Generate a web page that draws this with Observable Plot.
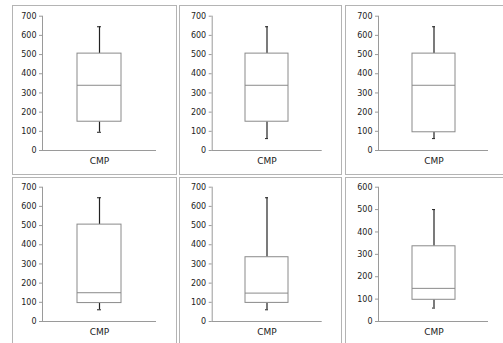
<!DOCTYPE html>
<html>
<head>
<meta charset="utf-8">
<script src="https://cdn.jsdelivr.net/npm/d3@7"></script>
<script src="https://cdn.jsdelivr.net/npm/@observablehq/plot@0.6"></script>
<style>
  html, body { margin: 0; padding: 0; background: #fff; width: 503px; height: 343px; overflow: hidden; position: relative; }
  .panel { position: absolute; border: 1px solid #b4b4b4; box-sizing: border-box; }
  .panel svg { position: absolute; left: 0; top: 0; overflow: visible; }
</style>
</head>
<body>
<div id="root"></div>
<script>
// ---- data ----
const category = ["CMP"];
const whiskerLow  = [95, 62, 62, 61, 61, 60];
const q1          = [150, 150, 95, 96, 97, 97];
const median      = [340, 340, 340, 150, 148, 148];
const q3          = [505, 505, 505, 505, 335, 336];
const whiskerHigh = [645, 645, 645, 645, 645, 500];
const yMax        = [700, 700, 700, 700, 700, 600];
const yTicks = [[0,100,200,300,400,500,600,700],[0,100,200,300,400,500,600,700],[0,100,200,300,400,500,600,700],
                [0,100,200,300,400,500,600,700],[0,100,200,300,400,500,600,700],[0,100,200,300,400,500,600]];

// ---- layout (panel frames & plot margins) ----
const layout = [
  {left: 12,  top: 5,   w: 165, h: 170, svgW: 163, svgH: 168, ml: 29,   mr: 20,   mt: 9.7, mb: 24},
  {left: 179, top: 5,   w: 163, h: 170, svgW: 161, svgH: 168, ml: 31.7, mr: 19.3, mt: 9.7, mb: 24},
  {left: 345, top: 5,   w: 170, h: 170, svgW: 157, svgH: 168, ml: 32,   mr: 15,   mt: 9.7, mb: 24},
  {left: 12,  top: 177, w: 165, h: 180, svgW: 163, svgH: 165, ml: 29,   mr: 20,   mt: 8.7, mb: 22},
  {left: 179, top: 177, w: 163, h: 180, svgW: 161, svgH: 165, ml: 31.7, mr: 19.3, mt: 8.7, mb: 22},
  {left: 345, top: 177, w: 170, h: 180, svgW: 157, svgH: 165, ml: 32,   mr: 15,   mt: 8.7, mb: 22}
];

const root = document.getElementById("root");
const boxGray = "#8a8a8a";
const axisGray = "#9a9a9a";

layout.forEach((L, i) => {
  const row = [{cat: category[0], lo: whiskerLow[i], q1: q1[i], med: median[i], q3: q3[i], hi: whiskerHigh[i]}];
  const div = document.createElement("div");
  div.className = "panel";
  Object.assign(div.style, {left: L.left + "px", top: L.top + "px", width: L.w + "px", height: L.h + "px"});
  const plotH = L.svgH - L.mt - L.mb;
  const chart = Plot.plot({
    width: L.svgW,
    height: L.svgH,
    marginLeft: L.ml, marginRight: L.mr, marginTop: L.mt, marginBottom: L.mb,
    style: {fontFamily: "DejaVu Sans, Verdana, sans-serif", fontSize: "8px", color: "#222", background: "transparent"},
    x: {domain: category, padding: 0.44, label: null},
    y: {domain: [0, yMax[i]], label: null},
    marks: [
      Plot.axisY({ticks: yTicks[i], tickSize: 3, tickPadding: 3, stroke: axisGray, fill: "#222", label: null, fontSize: 8}),
      Plot.axisX({tickSize: 0, tickPadding: 7, label: null, fontSize: 9, fill: "#222"}),
      Plot.frame({anchor: "left", stroke: axisGray}),
      Plot.ruleY([0], {stroke: axisGray}),
      Plot.ruleX([null], {frameAnchor: "right", insetTop: plotH - 3, dy: 3, stroke: axisGray}),
      Plot.ruleX(row, {x: "cat", y1: "q3", y2: "hi", stroke: "#222", strokeWidth: 1.2}),
      Plot.ruleX(row, {x: "cat", y1: "lo", y2: "q1", stroke: "#222", strokeWidth: 1.2}),
      Plot.tickY(row, {x: "cat", y: "hi", stroke: "#222", insetLeft: 20, insetRight: 20}),
      Plot.tickY(row, {x: "cat", y: "lo", stroke: "#222", insetLeft: 20, insetRight: 20}),
      Plot.barY(row, {x: "cat", y1: "q1", y2: "q3", fill: "white", stroke: boxGray, strokeWidth: 1}),
      Plot.tickY(row, {x: "cat", y: "med", stroke: boxGray, strokeWidth: 1})
    ]
  });
  div.appendChild(chart);
  root.appendChild(div);
});
</script>
</body>
</html>
